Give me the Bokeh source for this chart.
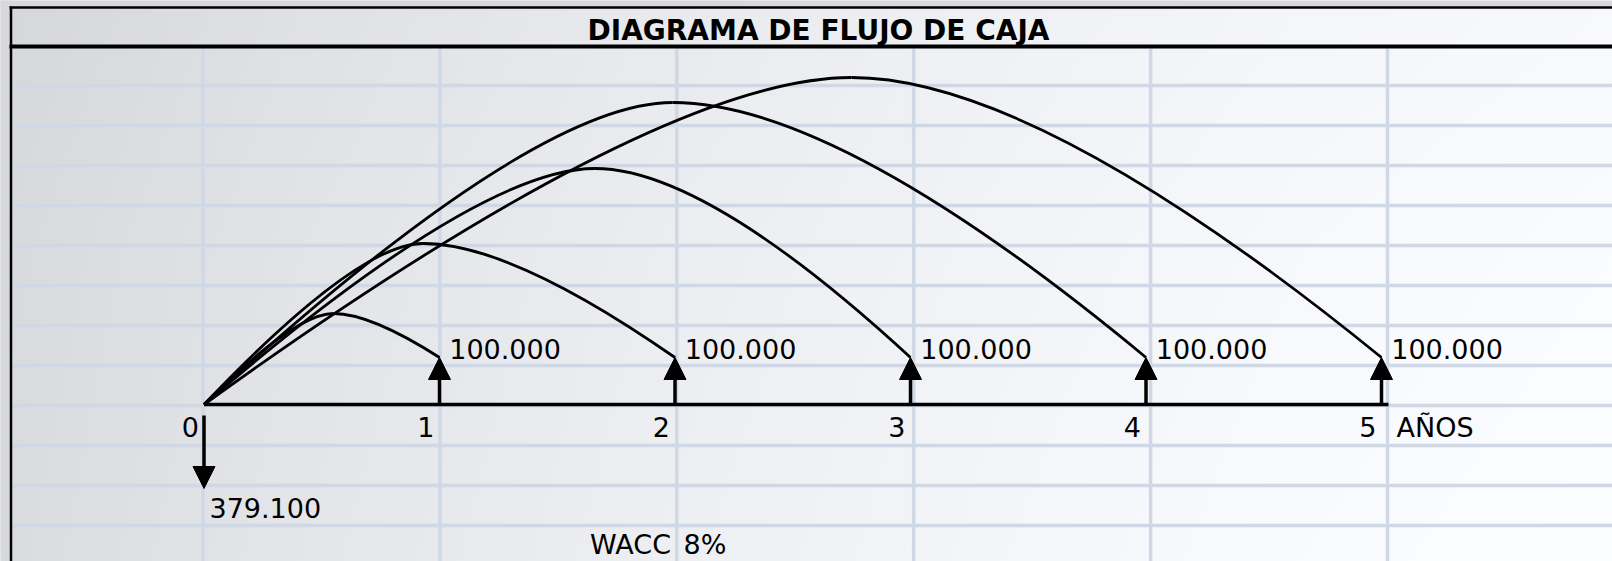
import numpy as np
from bokeh.plotting import figure
from bokeh.models import ColumnDataSource, Range1d, Arrow, NormalHead
from bokeh.core.properties import value
from bokeh.embed import file_html
from bokeh.resources import INLINE

# ---------------- data ----------------
years = [0, 1, 2, 3, 4, 5]
cash_flows = [-379100, 100000, 100000, 100000, 100000, 100000]
tick_labels = ["0", "1", "2", "3", "4", "5"]
# discounting arcs: from year 0 to each positive flow; apex position
arc_end_year = [1, 2, 3, 4, 5]
arc_peak_year = [0.55, 0.93, 1.66, 1.99, 2.75]
arc_peak_height = [91, 161, 236, 302, 327]
wacc_pct = 8
title_text = "DIAGRAMA DE FLUJO DE CAJA"
unit_label = "AÑOS"
wacc_label = "WACC"

# ---------------- layout / style ----------------
W, H = 1612, 561
YEAR0_PX = 203.5           # page x of year 0
PX_PER_YEAR = 235.5
AXIS_PY = 404              # page y of the time line
CELL_X0, CELL_W = 202.5, 236.9   # spreadsheet column borders (page px)
ROW_Y0, ROW_H = 85, 40.0         # spreadsheet row borders (page px)
UP_LEN = 47                # up-arrow length (diagram units = px)
DOWN_START, DOWN_END = -11, -84
RISE_F, FALL_F = 0.70, 0.35
FONT = "DejaVu Sans"
GRID_COLOR = "#d0d8e6"


def px2x(px):
    return (px - YEAR0_PX) / PX_PER_YEAR


def py2y(py):
    return AXIS_PY - py


x_range = Range1d(px2x(0), px2x(W))
y_range = Range1d(py2y(H), py2y(0))

p = figure(width=W, height=H, x_range=x_range, y_range=y_range,
           x_axis_type=None, y_axis_type=None, toolbar_location=None,
           output_backend="svg", min_border=0, outline_line_color=None,
           background_fill_color="white", border_fill_color="white")

# ---------------- background (sheet gradient) ----------------
cols, rows = W // 4, H // 4
page_x = (np.arange(cols) + 0.5) * (W / cols)
g = np.interp(page_x, [0, 300, 650, 1000, 1300, 1612], [219, 229, 238, 245, 250, 253])
page_y = (np.arange(rows)[::-1] + 0.5) * (H / rows)
shade = np.interp(page_y, [0, 250, 561], [-3, 0, 2])
G = np.clip(g[None, :] + shade[:, None], 0, 255)
img = np.zeros((rows, cols), dtype=np.uint32)
view = img.view(dtype=np.uint8).reshape((rows, cols, 4))
view[:, :, 0] = np.clip(G - 2, 0, 255).astype(np.uint8)
view[:, :, 1] = np.clip(G - 1, 0, 255).astype(np.uint8)
view[:, :, 2] = np.clip(G + 2, 0, 255).astype(np.uint8)
view[:, :, 3] = 255
p.image_rgba(image=[img], x=x_range.start, y=y_range.start,
             dw=x_range.end - x_range.start, dh=y_range.end - y_range.start)

# top strip above the sheet and left strip
p.quad(left=[px2x(-5), px2x(-5)], right=[px2x(W + 5), px2x(9)],
       bottom=[py2y(7), py2y(H + 5)], top=[py2y(-5), py2y(-5)],
       fill_color="#d7d8dc", line_color=None)

# ---------------- spreadsheet grid ----------------
gx = [px2x(CELL_X0 + CELL_W * k) for k in range(6)]
p.segment(x0=gx, x1=gx, y0=[py2y(48)] * 6, y1=[py2y(H + 5)] * 6,
          line_color=GRID_COLOR, line_width=3.5)
gy = [py2y(ROW_Y0 + ROW_H * k) for k in range(12)]
p.segment(x0=[px2x(11)] * 12, x1=[px2x(W + 5)] * 12, y0=gy, y1=gy,
          line_color=GRID_COLOR, line_width=3.5)

# title band borders and left border
p.segment(x0=[px2x(9), px2x(9)], x1=[px2x(W + 5)] * 2,
          y0=[py2y(7), py2y(46)], y1=[py2y(7), py2y(46)],
          line_color="black", line_width=[2.5, 4])
p.segment(x0=[px2x(10.5)], x1=[px2x(10.5)], y0=[py2y(6)], y1=[py2y(H + 5)],
          line_color="black", line_width=2.5)

# ---------------- time line ----------------
p.segment(x0=[years[0]], y0=[0], x1=[years[-1] + 7 / PX_PER_YEAR], y1=[0],
          line_color="black", line_width=3.5)

# ---------------- arcs (two quadratic pieces each) ----------------
rise = ColumnDataSource(dict(
    x0=[years[0]] * len(arc_peak_year), y0=[0] * len(arc_peak_year),
    x1=arc_peak_year, y1=arc_peak_height,
    cx=[years[0] + RISE_F * (px - years[0]) for px in arc_peak_year],
    cy=arc_peak_height))
fall = ColumnDataSource(dict(
    x0=arc_peak_year, y0=arc_peak_height,
    x1=arc_end_year, y1=[UP_LEN] * len(arc_end_year),
    cx=[px + FALL_F * (ex - px) for px, ex in zip(arc_peak_year, arc_end_year)],
    cy=arc_peak_height))
p.quadratic(x0="x0", y0="y0", x1="x1", y1="y1", cx="cx", cy="cy", source=rise,
            line_color="black", line_width=2.8)
p.quadratic(x0="x0", y0="y0", x1="x1", y1="y1", cx="cx", cy="cy", source=fall,
            line_color="black", line_width=2.8)

# ---------------- arrows ----------------
for yr, v in zip(years, cash_flows):
    if v > 0:
        ys, ye = 0, UP_LEN
    else:
        ys, ye = DOWN_START, DOWN_END
    p.add_layout(Arrow(end=NormalHead(size=22, fill_color="black", line_color="black", line_width=1),
                       x_start=yr, y_start=ys, x_end=yr, y_end=ye,
                       line_color="black", line_width=3.5))

# ---------------- texts ----------------
def fmt(v):
    return f"{abs(v):,}".replace(",", ".")

pos_years = [yr for yr, v in zip(years, cash_flows) if v > 0]
pos_txt = [fmt(v) for v in cash_flows if v > 0]
neg_years = [yr for yr, v in zip(years, cash_flows) if v < 0]
neg_txt = [fmt(v) for v in cash_flows if v < 0]

common = dict(text_font=value(FONT), text_font_size="27px", text_color="black",
              text_baseline="middle")
p.text(x=pos_years, y=[py2y(348)] * len(pos_years), text=pos_txt, x_offset=9.7,
       text_align="left", **common)
p.text(x=neg_years, y=[py2y(507)] * len(neg_years), text=neg_txt, x_offset=5.5,
       text_align="left", **common)
p.text(x=years, y=[py2y(426.5)] * len(years), text=tick_labels, x_offset=-5,
       text_align="right", **common)
p.text(x=[years[-1]], y=[py2y(426.5)], text=[unit_label], x_offset=15,
       text_align="left", **common)
p.text(x=[years[2]], y=[py2y(544)], text=[wacc_label], x_offset=-4,
       text_align="right", **common)
p.text(x=[years[2]], y=[py2y(544)], text=[f"{wacc_pct}%"], x_offset=8.5,
       text_align="left", **common)

p.text(x=[px2x(818)], y=[py2y(30)], text=[title_text], text_align="center",
       text_baseline="middle", text_font=value(FONT), text_font_size="28px",
       text_font_style="bold", text_color="black")

open("out.html", "w").write(file_html(p, INLINE))
